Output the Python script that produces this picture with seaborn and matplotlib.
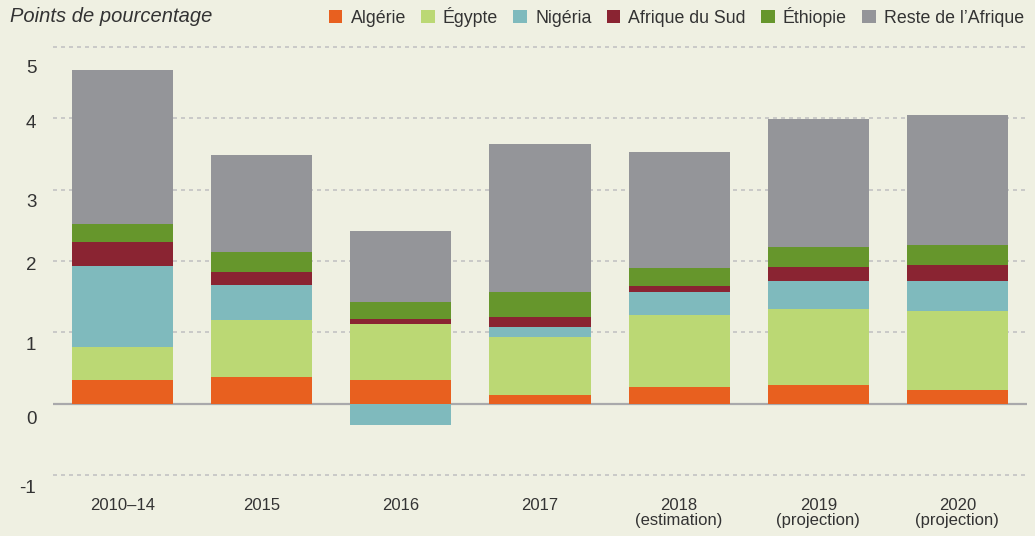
import numpy as np
import pandas as pd
import matplotlib
matplotlib.use('Agg')
import matplotlib.pyplot as plt
import matplotlib.transforms as mtransforms
from matplotlib.patches import Patch
import seaborn as sns

# ── data (points de pourcentage) ──
periods = ['2010–14', '2015', '2016', '2017',
           '2018\n(estimation)', '2019\n(projection)', '2020\n(projection)']
algerie     = [0.33, 0.37, 0.33, 0.13, 0.24, 0.26, 0.19]
egypte      = [0.47, 0.80, 0.79, 0.80, 1.01, 1.07, 1.11]
nigeria     = [1.13, 0.50, -0.29, 0.14, 0.32, 0.39, 0.42]
afrique_sud = [0.34, 0.17, 0.07, 0.15, 0.08, 0.20, 0.22]
ethiopie    = [0.25, 0.28, 0.24, 0.35, 0.25, 0.28, 0.29]
reste       = [2.15, 1.37, 0.99, 2.07, 1.62, 1.79, 1.82]

names = ['Algérie', 'Égypte', 'Nigéria', 'Afrique du Sud', 'Éthiopie', "Reste de l’Afrique"]
colors = ['#e8601f', '#bbd874', '#7fbabd', '#8a2432', '#66962c', '#949599']
yticks = [-1, 0, 1, 2, 3, 4, 5]

df = pd.DataFrame(dict(zip(names, [algerie, egypte, nigeria, afrique_sud, ethiopie, reste])),
                  index=periods)

# positive and negative stacks separately
pos_cum = df.clip(lower=0).cumsum(axis=1)
neg_cum = df.clip(upper=0).cumsum(axis=1)

bg = '#eff0e2'
txt = '#333333'
sns.set_theme(style='white')
plt.rcParams['font.family'] = ['Liberation Sans', 'DejaVu Sans']

fig = plt.figure(figsize=(10.35, 5.36), dpi=100, facecolor=bg)
ax = fig.add_axes([53 / 1035, 60 / 536, 974 / 1035, 430 / 536])
ax.set_facecolor(bg)

# draw outermost layer first so inner layers paint over it
for name, col in reversed(list(zip(names, colors))):
    for cum in (pos_cum, neg_cum):
        sns.barplot(x=periods, y=cum[name].values, order=periods, color=col,
                    saturation=1, width=0.727, errorbar=None, linewidth=0,
                    ax=ax, zorder=3)

# grid
for t in yticks:
    if t == 0:
        ax.axhline(0, color='#a9a9ab', lw=1.6, zorder=1)
    else:
        ax.axhline(t, color='#c3c3c3', lw=1.2, ls=(0, (2.4, 2.4)), zorder=1)

ax.set_xlim(-0.5, len(periods) - 0.5)
ax.set_ylim(-1.01, 5.01)
ax.set_yticks(yticks)
ax.set_yticklabels([str(t) for t in yticks])
ax.set_xlabel('')
ax.set_ylabel('')
for s in ax.spines.values():
    s.set_visible(False)
ax.tick_params(axis='y', length=0, pad=12, labelsize=13.5, labelcolor=txt)
ax.tick_params(axis='x', length=0, pad=16, labelsize=12, labelcolor=txt)
for lab in ax.get_xticklabels():
    lab.set_linespacing(1.0)
    lab.set_verticalalignment('top')

# the original's y labels sit a little below their gridlines
drops = [11, 14, 11, 3, 11, 3, 20]
for lab, d in zip(ax.get_yticklabels(), drops):
    lab.set_transform(lab.get_transform() +
                      mtransforms.ScaledTranslation(0, -d / 100, fig.dpi_scale_trans))

fig.text(10 / 1035, 1 - 17 / 536, 'Points de pourcentage', style='italic',
         va='center', ha='left', fontsize=14.5, color=txt)

handles = [Patch(facecolor=c, edgecolor='none') for c in colors]
fig.legend(handles, names, loc='center right', bbox_to_anchor=(1024 / 1035, 1 - 17 / 536),
           ncol=6, frameon=False, fontsize=12.8, handlelength=0.78, handleheight=0.78,
           handletextpad=0.45, columnspacing=0.85, borderaxespad=0, borderpad=0,
           labelcolor=txt)

plt.savefig('out.png', dpi=100, facecolor=bg)
